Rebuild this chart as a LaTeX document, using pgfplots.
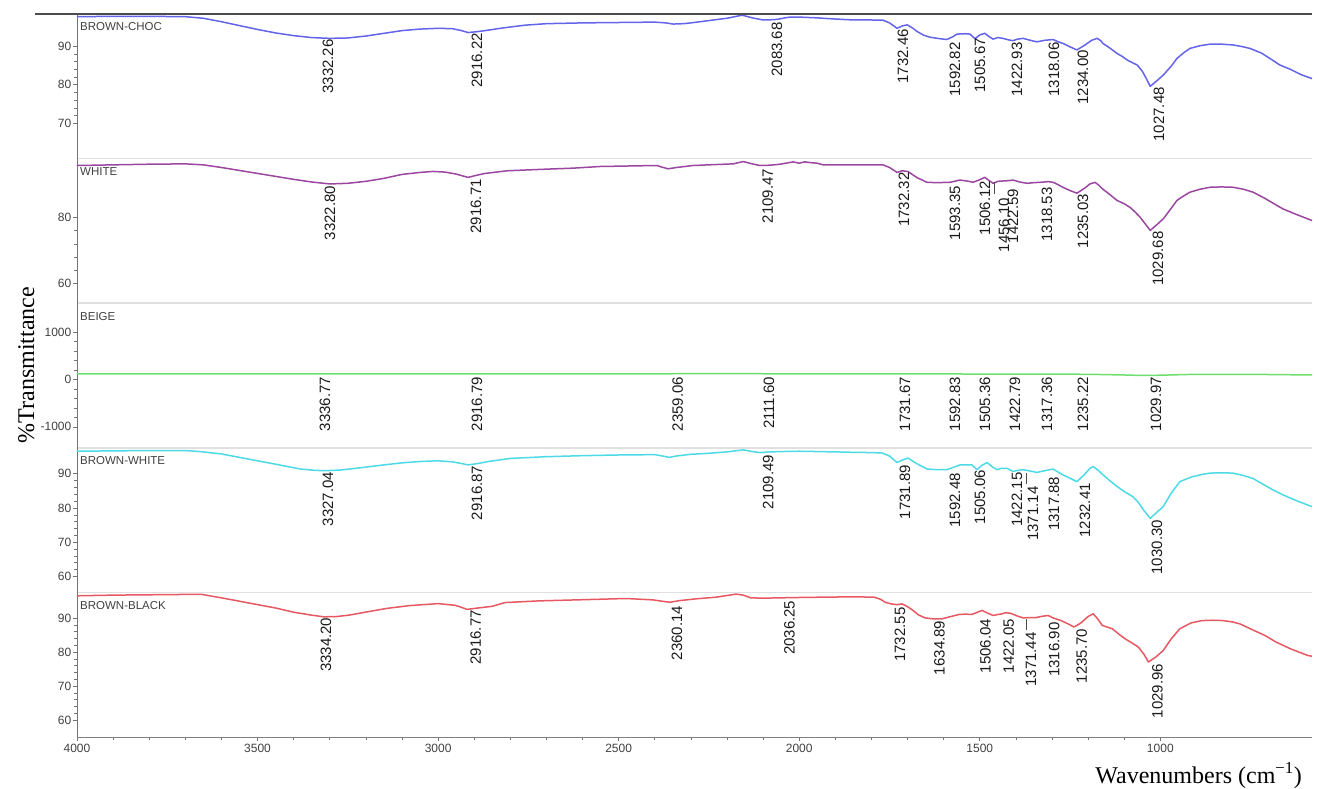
\documentclass[border=0pt]{standalone}
\usepackage{fontspec}
\setmainfont{Liberation Sans}
\newfontfamily\seriffont{Liberation Serif}
\usepackage{pgfplots}
\pgfplotsset{compat=1.18}
\definecolor{cBlue}{RGB}{100,100,235}
\definecolor{cPurple}{RGB}{155,70,160}
\definecolor{cGreen}{RGB}{110,222,110}
\definecolor{cCyan}{RGB}{75,218,230}
\definecolor{cRed}{RGB}{230,88,98}
\pgfplotsset{
  panel/.style={
    scale only axis, width=1235pt, height=144.6pt,
    anchor=north west,
    x dir=reverse, xmin=580, xmax=4000,
    axis y line*=left, axis x line*=bottom,
    xtick=\empty,
    y axis line style={black!55, line width=0.8pt},
    x axis line style={black!12, line width=1.6pt},
    tick align=outside,
    major tick length=4pt, minor tick length=2.5pt,
    every tick/.style={black!55, line width=0.6pt},
    minor y tick num=4,
    yticklabel style={font=\fontsize{12}{14}\selectfont, text=black!75, inner sep=1.5pt},
    xticklabel style={font=\fontsize{12}{14}\selectfont, text=black!75},
    /pgf/number format/assume math mode=true,
    /pgf/number format/1000 sep={},
    scaled y ticks=false, scaled x ticks=false,
    clip=false,
    every axis plot/.append style={line width=1.5pt, line join=round},
  },
}
\tikzset{
  pklab/.style={rotate=90, anchor=east, inner sep=0pt, font=\fontsize{15}{17}\selectfont, text=black!90},
  panlab/.style={anchor=base west, inner sep=0pt, xshift=3pt, yshift=-17pt, font=\fontsize{11.5}{13}\selectfont, text=black!75},
}
\newcommand{\pk}[3]{\node[pklab] at (axis cs:#1,#2) {#3};}
\begin{document}
\begin{tikzpicture}
\useasboundingbox (0pt,0pt) rectangle (1319pt,-789pt);
% ---------------- BROWN-CHOC
\begin{axis}[panel, at={(77pt,-14pt)}, ymin=60.9, ymax=98.3, ytick={70,80,90}]
\addplot[cBlue] coordinates {
(4000,97.6)(3900,97.7)(3800,97.7)(3700,97.6)(3650,97.2)(3600,96.3)(3550,95.3)(3500,94.3)(3450,93.4)(3400,92.7)(3350,92.2)(3300,92.0)(3250,92.1)(3200,92.6)(3150,93.3)(3100,94.0)(3050,94.4)(3000,94.6)(2960,94.5)(2935,94.0)(2917,93.5)(2895,93.7)(2870,94.0)(2820,94.7)(2760,95.4)(2700,95.8)(2600,96.0)(2500,96.1)(2400,96.2)(2370,96.0)(2349,95.7)(2320,95.8)(2300,96.0)(2250,96.6)(2200,97.2)(2158,98.0)(2130,97.3)(2100,96.75)(2080,96.8)(2061,96.9)(2040,97.3)(2025,97.5)(2000,97.5)(1951,97.3)(1900,97.0)(1859,96.8)(1800,96.75)(1768,96.7)(1750,96.0)(1729,94.6)(1715,95.2)(1701,95.5)(1685,94.6)(1674,93.8)(1655,92.8)(1638,92.3)(1610,91.9)(1591,91.7)(1575,92.4)(1563,93.1)(1540,93.2)(1527,93.1)(1513,91.9)(1500,92.9)(1486,93.3)(1475,92.5)(1463,91.8)(1450,92.2)(1436,92.0)(1420,91.6)(1408,91.4)(1395,91.8)(1380,92.0)(1360,91.5)(1342,91.1)(1320,91.5)(1297,91.7)(1285,91.2)(1270,90.7)(1250,89.8)(1231,89.0)(1210,90.2)(1190,91.5)(1175,92.0)(1165,91.4)(1159,90.7)(1140,89.5)(1120,88.1)(1105,87.3)(1092,86.4)(1075,85.6)(1064,85.1)(1050,83.5)(1040,81.8)(1028,79.6)(1010,81.0)(992,82.5)(970,84.8)(954,86.8)(935,88.3)(918,89.4)(890,90.1)(862,90.5)(830,90.5)(799,90.3)(775,89.9)(752,89.4)(720,88.2)(690,86.4)(669,85.1)(640,84.0)(610,82.6)(580,81.6)
};
\node[panlab] at (axis description cs:0,1) {BROWN-CHOC};
\pk{3304.9}{91.8}{3332.26}
\pk{2892.3}{93.4}{2916.22}
\pk{2061.5}{96.2}{2083.68}
\pk{1712.5}{94.4}{1732.46}
\pk{1568.6}{91.0}{1592.82}
\pk{1499.3}{92.1}{1505.67}
\pk{1396.8}{91.0}{1422.93}
\pk{1294.4}{91.0}{1318.06}
\pk{1214.1}{89.0}{1234.00}
\pk{1003.6}{79.4}{1027.48}
\end{axis}
% ---------------- WHITE
\begin{axis}[panel, at={(77pt,-158.6pt)}, ymin=54, ymax=97.9, ytick={60,80}]
\addplot[cPurple] coordinates {
(4000,95.8)(3900,96.0)(3800,96.2)(3700,96.3)(3650,96.0)(3600,95.2)(3550,94.3)(3500,93.4)(3450,92.5)(3400,91.6)(3350,90.8)(3300,90.2)(3250,90.4)(3200,91.0)(3150,91.9)(3100,93.1)(3050,93.7)(3014,94.0)(2980,93.8)(2950,93.2)(2917,92.2)(2895,92.8)(2870,93.4)(2809,94.2)(2700,94.7)(2626,95.0)(2552,95.5)(2450,95.7)(2394,95.8)(2380,95.3)(2363,94.8)(2340,95.2)(2294,95.8)(2230,96.1)(2183,96.3)(2155,97.0)(2130,96.3)(2109,95.8)(2080,95.9)(2053,96.2)(2017,96.9)(2000,96.5)(1985,96.9)(1970,96.7)(1950,96.5)(1934,96.0)(1880,96.0)(1807,96.0)(1768,96.0)(1750,95.2)(1729,93.7)(1715,94.2)(1699,94.0)(1675,92.2)(1646,90.7)(1620,90.6)(1582,90.7)(1555,91.4)(1530,91.0)(1519,90.7)(1500,91.5)(1486,92.2)(1475,91.3)(1463,90.4)(1450,91.0)(1436,91.1)(1420,91.2)(1408,91.4)(1390,90.8)(1369,90.4)(1350,90.6)(1333,90.7)(1310,90.9)(1297,90.7)(1285,90.1)(1270,89.2)(1250,88.2)(1231,87.4)(1210,88.9)(1195,90.2)(1181,90.7)(1170,89.8)(1159,88.6)(1140,87.0)(1120,85.2)(1100,84.2)(1084,83.1)(1070,81.7)(1056,80.1)(1042,78.1)(1028,76.1)(1010,77.8)(992,79.6)(970,82.8)(954,85.2)(935,86.6)(918,87.7)(890,88.6)(862,89.2)(830,89.3)(799,89.2)(770,88.6)(743,87.7)(710,85.8)(690,84.5)(660,82.6)(620,80.8)(580,79.1)
};
\node[panlab] at (axis description cs:0,1) {WHITE};
\pk{3299.4}{89.7}{3322.80}
\pk{2895}{91.7}{2916.71}
\pk{2087.2}{94.8}{2109.47}
\pk{1710}{93.7}{1732.32}
\pk{1568.6}{89.7}{1593.35}
\pk{1485.5}{91.2}{1506.12}
\pk{1432.8}{86.0}{1456.10}
\pk{1407.9}{88.7}{1422.59}
\pk{1313.8}{89.2}{1318.53}
\pk{1214.1}{87.2}{1235.03}
\pk{1006.4}{75.8}{1029.68}
\draw[black!70, line width=0.6pt] (axis cs:1460.6,90.7) -- (axis cs:1460.6,87.2);
\end{axis}
% ---------------- BEIGE
\begin{axis}[panel, at={(77pt,-303.2pt)}, ymin=-1442, ymax=1610, ytick={-1000,0,1000}]
\addplot[cGreen] coordinates {
(4000,120)(3500,118)(3000,118)(2500,120)(2200,122)(2000,120)(1800,120)(1700,118)(1500,115)(1300,112)(1200,110)(1100,95)(1050,85)(1000,90)(950,100)(900,110)(800,110)(700,105)(580,95)
};
\node[panlab] at (axis description cs:0,1) {BEIGE};
\pk{3313.2}{60}{3336.77}
\pk{2892.3}{60}{2916.79}
\pk{2336.4}{60}{2359.06}
\pk{2083.6}{60}{2111.60}
\pk{1707}{60}{1731.67}
\pk{1568.6}{60}{1592.83}
\pk{1485.5}{60}{1505.36}
\pk{1402.4}{60}{1422.79}
\pk{1313.8}{60}{1317.36}
\pk{1214.1}{60}{1235.22}
\pk{1012}{60}{1029.97}
\end{axis}
% ---------------- BROWN-WHITE
\begin{axis}[panel, at={(77pt,-447.8pt)}, ymin=55.3, ymax=97.6, ytick={60,70,80,90}]
\addplot[cCyan] coordinates {
(4000,96.6)(3900,96.7)(3800,96.8)(3700,96.8)(3660,96.5)(3600,95.8)(3550,94.8)(3500,93.8)(3450,92.8)(3382,91.4)(3340,91.0)(3313,90.9)(3270,91.1)(3220,91.7)(3150,92.6)(3100,93.2)(3050,93.6)(3000,93.8)(2960,93.5)(2935,93.0)(2917,92.6)(2890,93.0)(2860,93.6)(2800,94.5)(2700,95.0)(2600,95.3)(2500,95.5)(2400,95.6)(2378,95.2)(2360,94.8)(2340,95.2)(2300,95.7)(2250,96.0)(2200,96.4)(2155,97.0)(2130,96.5)(2109,96.2)(2080,96.4)(2050,96.5)(2000,96.6)(1950,96.5)(1900,96.4)(1859,96.3)(1800,96.2)(1771,96.1)(1750,95.2)(1729,93.3)(1715,94.0)(1699,94.6)(1675,93.0)(1646,91.4)(1620,91.2)(1591,91.2)(1570,92.0)(1555,92.6)(1522,92.6)(1508,91.2)(1495,92.4)(1480,93.3)(1465,92.0)(1452,91.2)(1440,91.6)(1425,91.6)(1408,90.7)(1395,91.0)(1380,91.2)(1360,90.8)(1342,90.4)(1320,90.9)(1297,91.4)(1285,90.6)(1270,89.7)(1250,88.7)(1231,87.7)(1210,89.8)(1195,91.6)(1186,92.1)(1172,91.0)(1159,89.7)(1140,88.0)(1120,86.3)(1100,84.8)(1076,83.3)(1060,81.5)(1045,79.2)(1028,77.0)(1010,78.7)(992,80.4)(970,84.3)(946,87.7)(925,88.6)(909,89.2)(885,89.8)(862,90.2)(830,90.3)(799,90.2)(770,89.5)(743,88.6)(710,86.6)(690,85.4)(660,83.8)(620,82.0)(580,80.4)
};
\node[panlab] at (axis description cs:0,1) {BROWN-WHITE};
\pk{3304.9}{90.6}{3327.04}
\pk{2892.3}{92.4}{2916.87}
\pk{2086}{95.6}{2109.49}
\pk{1707}{92.6}{1731.89}
\pk{1568.6}{90.2}{1592.48}
\pk{1499.3}{91.2}{1505.06}
\pk{1396.8}{90.4}{1422.15}
\pk{1352.6}{86.3}{1371.14}
\pk{1294.4}{89.2}{1317.88}
\pk{1208.6}{87.3}{1232.41}
\pk{1009.1}{76.5}{1030.30}
\draw[black!70, line width=0.6pt] (axis cs:1370,90.2) -- (axis cs:1370,87.1);
\end{axis}
% ---------------- BROWN-BLACK
\begin{axis}[panel, at={(77pt,-592.4pt)}, ymin=55, ymax=97.6, ytick={60,70,80,90},
  xtick={1000,1500,2000,2500,3000,3500,4000}, minor x tick num=4,
  x axis line style={black!50, line width=0.8pt}]
\addplot[cRed] coordinates {
(4000,96.6)(3900,96.8)(3800,96.9)(3700,97.0)(3654,97.0)(3600,96.0)(3550,95.0)(3515,94.3)(3450,93.0)(3397,91.7)(3350,90.9)(3316,90.4)(3280,90.5)(3247,90.9)(3200,91.8)(3141,92.9)(3080,93.7)(3000,94.3)(2953,93.8)(2935,93.2)(2920,92.6)(2890,93.0)(2850,93.5)(2815,94.6)(2721,95.1)(2582,95.5)(2480,95.8)(2405,95.4)(2380,95.0)(2358,94.7)(2330,95.2)(2286,95.7)(2230,96.2)(2175,97.1)(2155,96.8)(2134,96.0)(2100,95.9)(2053,96.0)(2000,96.1)(1934,96.2)(1850,96.3)(1793,96.2)(1775,95.6)(1762,94.7)(1745,94.2)(1730,94.0)(1715,94.2)(1700,93.4)(1685,92.3)(1670,91.0)(1652,90.1)(1630,89.8)(1605,89.8)(1580,90.5)(1557,91.1)(1540,91.2)(1522,91.1)(1508,91.7)(1494,92.3)(1478,91.5)(1463,90.8)(1450,91.1)(1441,91.2)(1430,91.6)(1416,91.5)(1395,90.6)(1380,90.1)(1360,90.2)(1344,90.2)(1325,90.6)(1311,90.8)(1295,90.0)(1275,89.3)(1255,88.3)(1239,87.4)(1220,88.6)(1200,90.5)(1186,91.3)(1175,90.0)(1161,87.9)(1145,87.3)(1133,86.9)(1115,85.3)(1097,83.9)(1080,82.8)(1061,81.5)(1045,79.3)(1033,77.1)(1012,78.6)(992,80.5)(970,83.9)(946,86.9)(915,88.6)(885,89.3)(855,89.4)(826,89.3)(800,88.9)(779,88.3)(745,86.6)(710,84.9)(680,83.0)(640,81.0)(591,79.0)(580,78.8)
};
\node[panlab] at (axis description cs:0,1) {BROWN-BLACK};
\pk{3310.4}{90.2}{3334.20}
\pk{2896.2}{92.4}{2916.77}
\pk{2338.4}{93.7}{2360.14}
\pk{2026.9}{95.2}{2036.25}
\pk{1720.9}{93.2}{1732.55}
\pk{1611.5}{89.3}{1634.89}
\pk{1484.1}{89.8}{1506.04}
\pk{1419.8}{89.8}{1422.05}
\pk{1358.1}{85.9}{1371.44}
\pk{1293.8}{88.8}{1316.90}
\pk{1217.8}{86.9}{1235.70}
\pk{1007.8}{76.6}{1029.96}
\draw[black!70, line width=0.6pt] (axis cs:1370,89.8) -- (axis cs:1370,86.4);
\end{axis}
% ---------------- frame and titles
\draw[black!70, line width=2pt] (35pt,-14pt) -- (1312pt,-14pt);
\node[rotate=90, anchor=base, inner sep=0pt, font=\seriffont\fontsize{24}{28}\selectfont] at (34pt,-365pt) {\%Transmittance};
\node[anchor=base east, inner sep=0pt, font=\seriffont\fontsize{24}{28}\selectfont] at (1302pt,-783pt) {Wavenumbers (cm\textsuperscript{−1})};
\end{tikzpicture}
\end{document}
